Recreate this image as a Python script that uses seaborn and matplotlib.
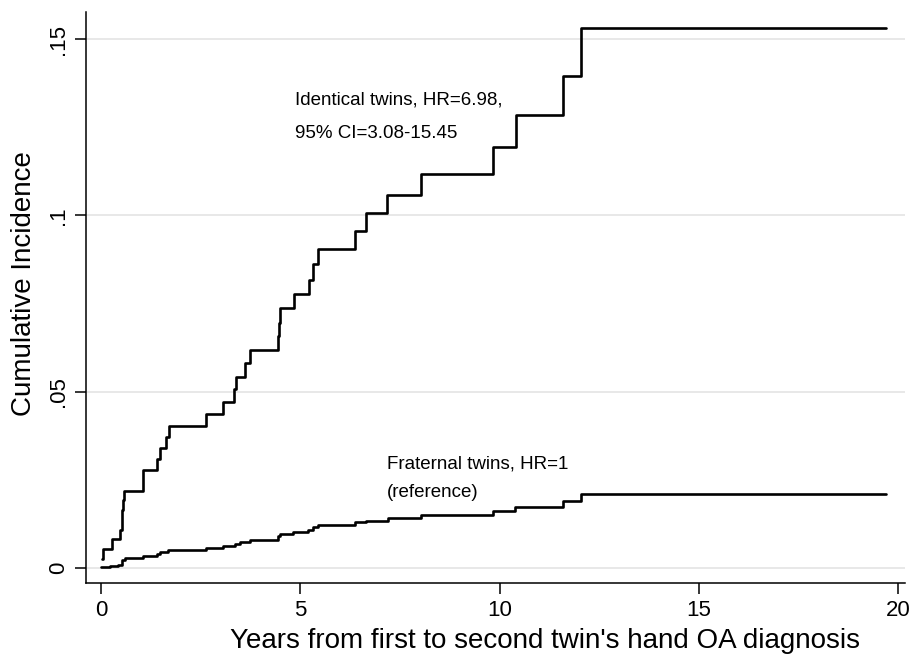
import pandas as pd
import matplotlib
matplotlib.use("Agg")
from matplotlib import pyplot as plt
import seaborn as sns

# Step points
identical_years = [0.02, 0.06, 0.28, 0.48, 0.53, 0.56, 0.58, 1.05, 1.41, 1.47,
                   1.63, 1.70, 2.63, 3.05, 3.33, 3.38, 3.61, 3.73, 4.44, 4.46,
                   4.48, 4.84, 5.21, 5.32, 5.45, 6.38, 6.66, 7.18, 8.04, 9.83,
                   10.40, 11.59, 12.05, 19.69]
identical_inc = [0.0025, 0.0053, 0.0082, 0.0108, 0.0165, 0.0193, 0.0219, 0.0278, 0.0309, 0.0340,
                 0.0372, 0.0402, 0.0437, 0.0471, 0.0508, 0.0542, 0.0582, 0.0617, 0.0657, 0.0695,
                 0.0736, 0.0776, 0.0818, 0.0861, 0.0905, 0.0955, 0.1006, 0.1058, 0.1116, 0.1195,
                 0.1284, 0.1395, 0.1531, 0.1531]

fraternal_years = [0.0, 0.23, 0.43, 0.52, 0.60, 1.05, 1.40, 1.48, 1.69, 2.63,
                   3.07, 3.36, 3.48, 3.73, 4.44, 4.49, 4.82, 5.20, 5.32, 5.45,
                   6.37, 6.64, 7.20, 8.04, 9.83, 10.38, 11.59, 12.05, 19.69]
fraternal_inc = [0.0002, 0.0006, 0.0009, 0.0021, 0.0028, 0.0034, 0.0040, 0.0045, 0.0051, 0.0056,
                 0.0061, 0.0067, 0.0073, 0.0080, 0.0089, 0.0097, 0.0103, 0.0108, 0.0115, 0.0122,
                 0.0129, 0.0134, 0.0141, 0.0151, 0.0160, 0.0174, 0.0191, 0.0210, 0.0210]

x_ticks = [0, 5, 10, 15, 20]
y_ticks = [0, 0.05, 0.1, 0.15]
y_tick_labels = ["0", ".05", ".1", ".15"]

df = pd.concat([
    pd.DataFrame({"years": identical_years, "inc": identical_inc, "group": "Identical"}),
    pd.DataFrame({"years": fraternal_years, "inc": fraternal_inc, "group": "Fraternal"}),
])

sns.set_style("white")
plt.rcParams['font.family'] = ['Liberation Sans', 'DejaVu Sans']
plt.rcParams['text.color'] = 'black'
plt.rcParams['axes.labelcolor'] = 'black'
plt.rcParams['xtick.color'] = 'black'
plt.rcParams['ytick.color'] = 'black'

fig = plt.figure(figsize=(9.13, 6.59), dpi=100)
ax = fig.add_axes([86 / 913, 1 - 583 / 659, (905 - 86) / 913, (583 - 12) / 659])

sns.lineplot(data=df, x="years", y="inc", hue="group", units="group", estimator=None,
             palette={"Identical": "black", "Fraternal": "black"},
             drawstyle="steps-post", linewidth=1.9, legend=False, ax=ax)

ax.set_xlim(-0.376, 20.17)
ax.set_ylim(-0.0043, 0.1577)
ax.set_xticks(x_ticks)
ax.set_xticklabels([str(t) for t in x_ticks])
ax.set_yticks(y_ticks)
ax.set_yticklabels(y_tick_labels, rotation=90, va="center")
ax.tick_params(axis="both", direction="out", length=8, width=1.1, color="black",
               labelcolor="black", labelsize=16, pad=4, bottom=True, left=True)
ax.yaxis.grid(True, color="#e8e8e8", linewidth=1.4)
ax.xaxis.grid(False)
ax.set_axisbelow(True)

for side in ["top", "right"]:
    ax.spines[side].set_visible(False)
for side in ["left", "bottom"]:
    ax.spines[side].set_color("black")
    ax.spines[side].set_linewidth(1.1)

ax.set_xlabel("Years from first to second twin's hand OA diagnosis", fontsize=20,
              labelpad=5, x=0.56)
ax.set_ylabel("Cumulative Incidence", fontsize=20, labelpad=8, y=0.525)

ax.text(4.86, 0.1327, "Identical twins, HR=6.98,", fontsize=13.5, va="center")
ax.text(4.86, 0.1233, "95% CI=3.08-15.45", fontsize=13.5, va="center")
ax.text(7.17, 0.0295, "Fraternal twins, HR=1", fontsize=13.5, va="center")
ax.text(7.17, 0.0215, "(reference)", fontsize=13.5, va="center")

fig.savefig("out.png", dpi=100)
